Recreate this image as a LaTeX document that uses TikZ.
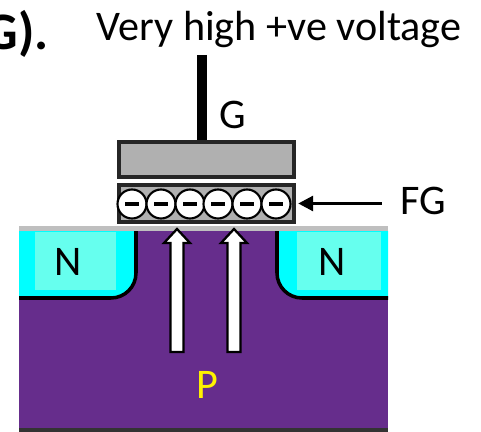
\documentclass[tikz,border=0pt]{standalone}
\usepackage{fontspec}
\setmainfont{Carlito}
\usetikzlibrary{arrows.meta,positioning}
\definecolor{subpurple}{HTML}{662D8C}
\definecolor{ncyan}{HTML}{00FFFF}
\definecolor{nlight}{HTML}{66FFEE}
\definecolor{gategray}{HTML}{B0B0B0}
\tikzset{
  lbl/.style={inner sep=0pt,font=\fontsize{24}{24}\selectfont},
  gatebox/.style={draw=black!85,line width=2pt,fill=gategray,inner sep=0pt,minimum width=3.5cm},
  electron/.style={circle,draw=black,line width=1.2pt,fill=white,inner sep=0pt,minimum size=.58cm},
  nedge/.style={draw=black,line width=2pt,rounded corners=.5cm},
  blockarrow/.style={draw=black,line width=1.3pt,fill=white,line join=miter}
}
\begin{document}
\begin{tikzpicture}[x=.02cm,y=-.02cm]
\useasboundingbox (0,0) rectangle (481,432);
\clip (0,0) rectangle (481,432);

% substrate
\fill[subpurple] (19,229) rectangle (388,431);
\fill[black!80] (19,428) rectangle (388,432);

% n wells
\fill[ncyan] (19,231) -- (136,231) [rounded corners=.5cm] -- (136,298) [sharp corners] -- (19,298) -- cycle;
\fill[ncyan] (388,231) -- (277,231) [rounded corners=.5cm] -- (277,298) [sharp corners] -- (388,298) -- cycle;
\fill[nlight] (35,232) rectangle (116,290);
\fill[nlight] (297,232) rectangle (381,290);
\draw[nedge] (136,231) -- (136,298) -- (19,298);
\draw[nedge] (277,231) -- (277,298) -- (388,298);
\fill[gray!50] (19,226) rectangle (388,231);

% gates
\node (gate) at (206.5,159.5) [gatebox,minimum height=.7cm] {};
\node (fgate) at (206.5,203.5) [gatebox,minimum height=.74cm] {};
\coordinate (gtop) at (202,55);
\draw[line width=5.6pt] (gtop) -- (gtop |- gate.north);

% electrons
\foreach \n/\x in {1/132,2/161,3/190,4/218,5/247,6/276} {
\node (e\n) at (\x,204) [electron] {};
\draw[line width=2pt] ([xshift=-.14cm]e\n.center) -- ([xshift=.14cm]e\n.center);
}

% arrows into the floating gate
\foreach \x in {177,234} {
\draw[blockarrow] (\x-6.5,352) -- (\x-6.5,243) -- (\x-13,243) -- (\x,229) -- (\x+13,243) -- (\x+6.5,243) -- (\x+6.5,352) -- cycle;
}

% labels
\node (lvolt) at (279,29) [lbl] {Very high +ve voltage};
\node (lg) at (233,115) [lbl] {G};
\node (lfg) at (423,201) [lbl] {FG};
\node (ln1) at (68,262) [lbl] {N};
\node (ln2) at (332,262) [lbl] {N};
\node (lp) at (207,385) [lbl,text=yellow] {P};
\node (lhead) at (49,34) [lbl,anchor=east,font=\bfseries\fontsize{30}{30}\selectfont] {G).};

\draw[-{Triangle[length=.3cm,width=.3cm]},line width=1.7pt,shorten >=.05cm] ([xshift=-.36cm]lfg.west |- fgate.east) -- (fgate.east);
\end{tikzpicture}
\end{document}
